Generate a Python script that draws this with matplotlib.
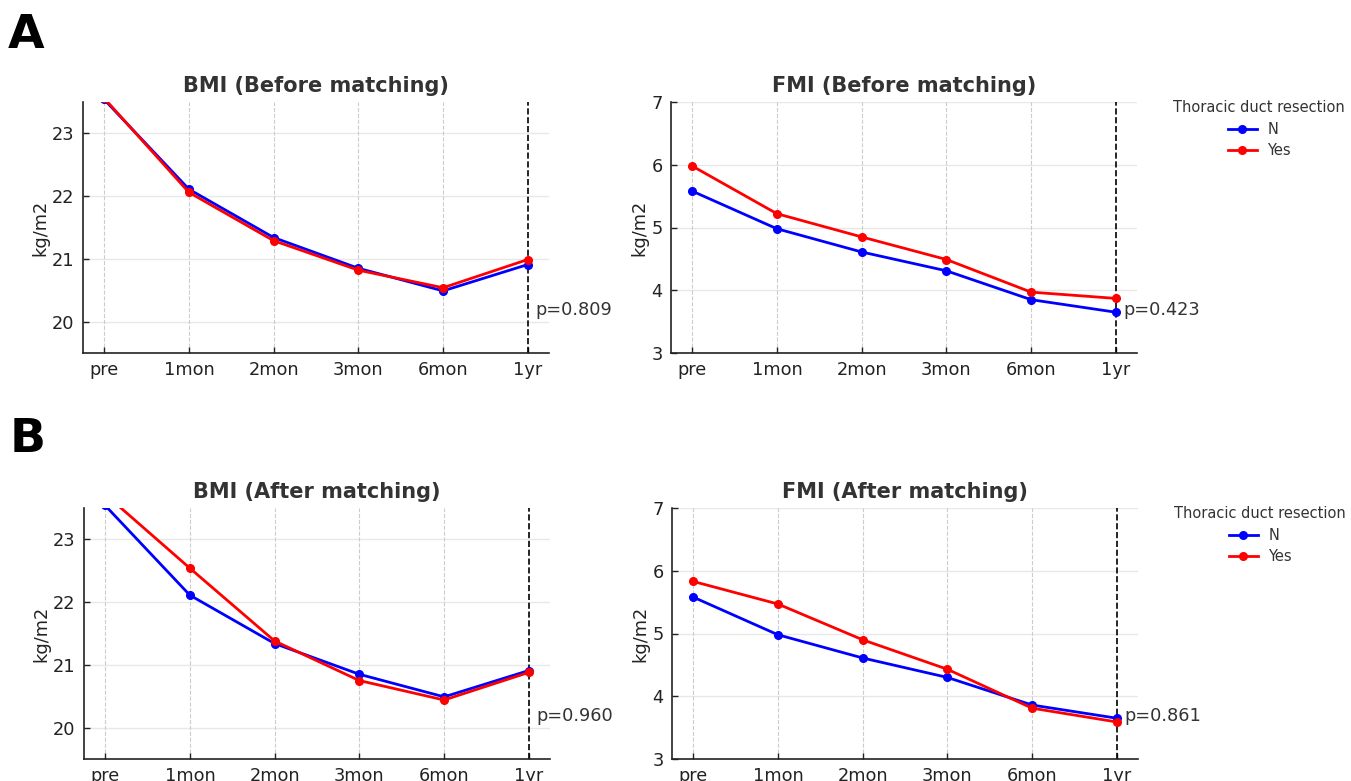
import matplotlib
matplotlib.use("Agg")
import matplotlib.pyplot as plt
import matplotlib.transforms as mtransforms

# time points
timepoints = ["pre", "1mon", "2mon", "3mon", "6mon", "1yr"]

# BMI before matching
bmi_before_n = [23.54, 22.11, 21.34, 20.85, 20.49, 20.91]
bmi_before_yes = [23.56, 22.06, 21.29, 20.82, 20.54, 20.99]
# FMI before matching
fmi_before_n = [5.58, 4.98, 4.61, 4.31, 3.85, 3.65]
fmi_before_yes = [5.98, 5.22, 4.85, 4.49, 3.97, 3.87]
# BMI after matching
bmi_after_n = [23.54, 22.11, 21.34, 20.85, 20.49, 20.91]
bmi_after_yes = [23.72, 22.54, 21.38, 20.75, 20.44, 20.88]
# FMI after matching
fmi_after_n = [5.58, 4.98, 4.61, 4.30, 3.86, 3.65]
fmi_after_yes = [5.83, 5.47, 4.90, 4.43, 3.81, 3.59]

p_values = ["p=0.809", "p=0.423", "p=0.960", "p=0.861"]
titles = ["BMI (Before matching)", "FMI (Before matching)",
          "BMI (After matching)", "FMI (After matching)"]
group_labels = ["N", "Yes"]
legend_title = "Thoracic duct resection"

W, H = 1351, 781
fig = plt.figure(figsize=(W / 100, H / 100), dpi=100)


#make_panel draws one line panel with the style of the reference.
def make_panel(rect, n_vals, yes_vals, title, ptxt, ylim, yticks, legend=False):
    ax = fig.add_axes(rect)
    x = list(range(len(timepoints)))
    ax.plot(x, n_vals, color="#0000ff", marker="o", markersize=5.5, lw=2,
            label=group_labels[0], zorder=3)
    ax.plot(x, yes_vals, color="#ff0000", marker="o", markersize=5.5, lw=2,
            label=group_labels[1], zorder=3)
    ax.set_xlim(-0.25, 5.25)
    ax.set_ylim(*ylim)
    ax.set_yticks(yticks)
    ax.set_xticks(x)
    ax.set_xticklabels(timepoints)
    for yv in yticks:
        ax.axhline(yv, color="#e8e8e8", lw=1, zorder=0)
    for xv in x[:-1]:
        ax.axvline(xv, color="#cccccc", lw=0.8, ls="--", zorder=0)
    ax.axvline(5, color="black", lw=1.2, ls="--", zorder=2)
    for s in ["top", "right"]:
        ax.spines[s].set_visible(False)
    for s in ["left", "bottom"]:
        ax.spines[s].set_color("#222222")
        ax.spines[s].set_linewidth(1.2)
    ax.tick_params(direction="in", length=4, width=1, colors="#222222",
                   labelsize=12.8, pad=6)
    ax.set_ylabel("kg/m2", fontsize=12.8, color="#222222", labelpad=2)
    ax.set_title(title, fontsize=15, fontweight="bold", color="#333333", pad=7)
    trans = mtransforms.blended_transform_factory(ax.transData, ax.transAxes)
    ax.text(5.09, 0.17, ptxt, transform=trans, ha="left", va="center",
            fontsize=12.8, color="#333333")
    if legend:
        leg = ax.legend(title=legend_title, loc="upper left",
                        bbox_to_anchor=(1.05, 1.06), frameon=False,
                        fontsize=10.5, title_fontsize=10.5,
                        handlelength=2.0, handletextpad=0.7, labelspacing=0.45)
        leg.get_title().set_color("#333333")
        for t in leg.get_texts():
            t.set_color("#333333")
    return ax


h = 251 / H
w = 466 / W
make_panel([83 / W, 1 - 353 / H, w, h], bmi_before_n, bmi_before_yes,
           titles[0], p_values[0], (19.5, 23.5), [20, 21, 22, 23])
make_panel([671 / W, 1 - 353 / H, w, h], fmi_before_n, fmi_before_yes,
           titles[1], p_values[1], (3, 7), [3, 4, 5, 6, 7], legend=True)
make_panel([84 / W, 1 - 759 / H, w, h], bmi_after_n, bmi_after_yes,
           titles[2], p_values[2], (19.5, 23.5), [20, 21, 22, 23])
make_panel([672 / W, 1 - 759 / H, w, h], fmi_after_n, fmi_after_yes,
           titles[3], p_values[3], (3, 7), [3, 4, 5, 6, 7], legend=True)

fig.text(8 / W, 1 - 48 / H, "A", fontsize=34, fontweight="bold", ha="left", va="baseline")
fig.text(10 / W, 1 - 452 / H, "B", fontsize=34, fontweight="bold", ha="left", va="baseline")

fig.savefig("out.png", dpi=100)
